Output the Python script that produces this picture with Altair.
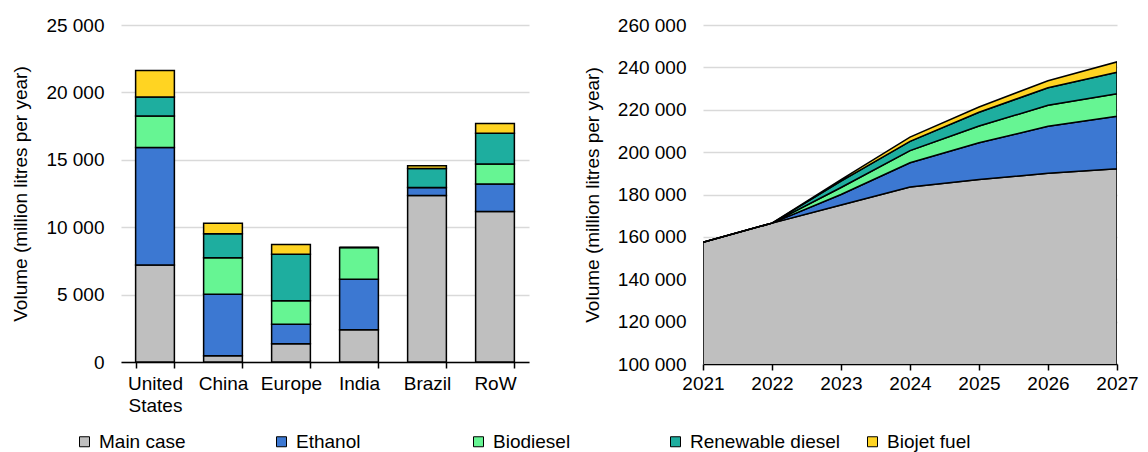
import altair as alt
import pandas as pd

FONT = "Liberation Sans"
FS = 19

series = ["Main case", "Ethanol", "Biodiesel", "Renewable diesel", "Biojet fuel"]
colors = ["#BFBFBF", "#3C78D2", "#66F593", "#1EAE9F", "#FFD422"]

# Left chart: regional volumes (million litres per year)
regions = ["United States", "China", "Europe", "India", "Brazil", "RoW"]
reg_main = [7200, 470, 1360, 2400, 12360, 11170]
reg_ethanol = [8720, 4560, 1440, 3740, 590, 2030]
reg_biodiesel = [2330, 2700, 1750, 2350, 0, 1490]
reg_renewable = [1410, 1780, 3450, 0, 1400, 2280]
reg_biojet = [1960, 790, 720, 0, 200, 720]

# Right chart: global volumes by year
years = [2021, 2022, 2023, 2024, 2025, 2026, 2027]
yr_main = [157500, 166500, 175000, 183500, 187100, 190000, 192100]
yr_ethanol = [0, 0, 5000, 11500, 17300, 22200, 24800]
yr_biodiesel = [0, 0, 3300, 5700, 7900, 9900, 10700]
yr_renewable = [0, 0, 3000, 4400, 6500, 8300, 10100]
yr_biojet = [0, 0, 700, 2000, 2500, 3300, 4900]

left_rows = []
for i, r in enumerate(regions):
    for k, vals in enumerate([reg_main, reg_ethanol, reg_biodiesel, reg_renewable, reg_biojet]):
        left_rows.append({"region": r, "series": series[k], "order": k, "value": vals[i]})
left_df = pd.DataFrame(left_rows)

right_rows = []
for i, y in enumerate(years):
    for k, vals in enumerate([yr_main, yr_ethanol, yr_biodiesel, yr_renewable, yr_biojet]):
        right_rows.append({"year": y, "series": series[k], "order": k, "value": vals[i]})
right_df = pd.DataFrame(right_rows)

color = alt.Color(
    "series:N",
    scale=alt.Scale(domain=series, range=colors),
    sort=series,
    legend=alt.Legend(
        title=None,
        orient="none",
        legendX=-46,
        legendY=407,
        direction="horizontal",
        columns=5,
        gridAlign="all",
        columnPadding=23,
        symbolType="square",
        symbolSize=100,
        symbolStrokeColor="#000000",
        symbolStrokeWidth=1,
        labelFont=FONT,
        labelFontSize=FS,
        labelColor="#000000",
        labelOffset=5,
        labelLimit=300,
    ),
)

num_fmt = "replace(format(datum.value, ','), ',', ' ')"

left = alt.Chart(left_df).mark_bar(stroke="#000000", strokeWidth=1.5).encode(
    x=alt.X(
        "region:N",
        sort=regions,
        scale=alt.Scale(paddingInner=0.43, paddingOuter=0.215),
        axis=alt.Axis(
            title=None,
            labelAngle=0,
            labelExpr="split(datum.label, ' ')",
            labelFont=FONT,
            labelFontSize=FS,
            labelColor="#000000",
            labelPadding=6,
            labelLineHeight=22,
            tickBand="extent",
            tickColor="#000000",
            tickSize=6,
            tickWidth=1.5,
            domainColor="#000000",
            domainWidth=1.5,
            grid=False,
        ),
    ),
    y=alt.Y(
        "value:Q",
        stack="zero",
        scale=alt.Scale(domain=[0, 25000], nice=False),
        axis=alt.Axis(
            title="Volume (million litres per year)",
            titleFont=FONT,
            titleFontSize=FS,
            titleFontWeight="normal",
            titleColor="#000000",
            titlePadding=15,
            values=[0, 5000, 10000, 15000, 20000, 25000],
            labelExpr=num_fmt,
            labelFont=FONT,
            labelFontSize=FS,
            labelColor="#000000",
            labelPadding=17,
            ticks=False,
            domain=False,
            grid=True,
            gridColor="#D9D9D9",
            gridWidth=1.5,
        ),
    ),
    color=color,
    order=alt.Order("order:Q", sort="ascending"),
).properties(width=408, height=337)

right = alt.Chart(right_df).mark_area(
    stroke="#000000", strokeWidth=1.5, clip=True, opacity=1
).encode(
    x=alt.X(
        "year:Q",
        scale=alt.Scale(domain=[2021, 2027], nice=False, zero=False),
        axis=alt.Axis(
            title=None,
            values=years,
            format="d",
            labelFlush=False,
            labelFont=FONT,
            labelFontSize=FS,
            labelColor="#000000",
            labelPadding=4,
            tickColor="#000000",
            tickSize=6,
            tickWidth=1.5,
            domainColor="#000000",
            domainWidth=1.5,
            grid=False,
        ),
    ),
    y=alt.Y(
        "value:Q",
        stack="zero",
        scale=alt.Scale(domain=[100000, 260000], nice=False, zero=False),
        axis=alt.Axis(
            title="Volume (million litres per year)",
            titleFont=FONT,
            titleFontSize=FS,
            titleFontWeight="normal",
            titleColor="#000000",
            titlePadding=15,
            values=[100000, 120000, 140000, 160000, 180000, 200000, 220000, 240000, 260000],
            labelExpr=num_fmt,
            labelFont=FONT,
            labelFontSize=FS,
            labelColor="#000000",
            labelPadding=17,
            ticks=False,
            domain=False,
            grid=True,
            gridColor="#D9D9D9",
            gridWidth=1.5,
        ),
    ),
    color=color,
    order=alt.Order("order:Q", sort="ascending"),
).properties(width=414, height=339)

chart = alt.hconcat(left, right, spacing=54).properties(
    padding={"left": 3, "top": 8, "right": 0, "bottom": 0}
).configure_view(stroke=None)

chart.save("out.html", embed_options={"renderer": "svg", "actions": False})
